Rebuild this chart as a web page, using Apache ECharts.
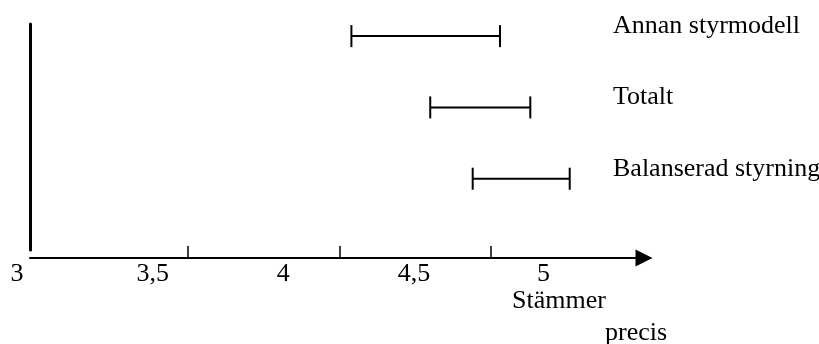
<!DOCTYPE html>
<html>
<head>
<meta charset="utf-8">
<script src="https://cdn.jsdelivr.net/npm/echarts@6/dist/echarts.min.js"></script>
<style>
  html, body { margin: 0; padding: 0; background: #fff; }
  #chart { width: 819px; height: 344px; }
</style>
</head>
<body>
<div id="chart"></div>
<script>
// rows, bottom to top
const categories = ["Balanserad styrning", "Totalt", "Annan styrmodell"];
const lowValues = [4.44, 4.30, 4.04];
const highValues = [4.76, 4.63, 4.53];

const tickValues = [3.5, 4, 4.5];
const labelValues = [3, 3.5, 4, 4.5, 5];
const axisTitle = ["Stämmer", "precis"];

const font = "Liberation Serif";
// labels in the original sit left of their ticks
const labelShift = [19, 35, 56, 77, 99];

const rich = {};
labelValues.forEach((v, i) => {
  rich["l" + i] = {
    fontFamily: font,
    fontSize: 26,
    color: "#000",
    padding: [0, labelShift[i] * 2, 0, 0]
  };
});

const data = categories.map((c, i) => [i + 1, lowValues[i], highValues[i]]);

const chart = echarts.init(document.getElementById("chart"));
chart.setOption({
  animation: false,
  backgroundColor: "#fff",
  title: {
    text: "{a|" + axisTitle[0] + "}\n{b|" + axisTitle[1] + "}",
    left: 512,
    top: 285,
    padding: 0,
    textStyle: {
      fontWeight: "normal",
      rich: {
        a: { fontFamily: font, fontSize: 26, lineHeight: 32, color: "#000" },
        b: { fontFamily: font, fontSize: 26, lineHeight: 32, color: "#000", padding: [0, 0, 0, 93] }
      }
    }
  },
  grid: {
    left: 30,
    right: 175,
    top: 24,
    bottom: 94,
    containLabel: false,
    outerBoundsMode: "none"
  },
  xAxis: {
    type: "value",
    min: 2.98,
    max: 5.005,
    offset: 8,
    splitLine: { show: false },
    axisLine: {
      show: true,
      onZero: false,
      symbol: ["none", "triangle"],
      symbolSize: [17, 17],
      lineStyle: { color: "#000", width: 2 }
    },
    axisTick: {
      show: true,
      inside: true,
      length: 12,
      customValues: tickValues,
      lineStyle: { color: "#000", width: 1.5 }
    },
    axisLabel: {
      margin: 3,
      customValues: labelValues,
      formatter: function(v) {
        const i = labelValues.indexOf(v);
        return "{l" + i + "|" + String(v).replace(".", ",") + "}";
      },
      rich: rich
    }
  },
  yAxis: [
    {
      type: "value",
      min: 0,
      max: 3.17,
      position: "left",
      splitLine: { show: false },
      axisLine: { show: true, onZero: false, lineStyle: { color: "#000", width: 3 } },
      axisTick: { show: false },
      axisLabel: { show: false }
    },
    {
      type: "value",
      min: 0,
      max: 3.17,
      position: "right",
      offset: -31,
      splitLine: { show: false },
      axisLine: { show: false },
      axisTick: { show: false },
      axisLabel: {
        margin: 0,
        customValues: categories.map((c, i) => i + 1),
        formatter: function(v) {
          return categories[v - 1];
        },
        fontFamily: font,
        fontSize: 26,
        color: "#000",
        align: "left",
        verticalAlign: "bottom",
        lineHeight: 20
      }
    }
  ],
  series: [
    {
      type: "custom",
      xAxisIndex: 0,
      yAxisIndex: 0,
      data: data,
      renderItem: function(params, api) {
        const row = api.value(0);
        const a = api.coord([api.value(1), row]);
        const b = api.coord([api.value(2), row]);
        const cap = 11;
        const style = { stroke: "#000", lineWidth: 2 };
        return {
          type: "group",
          children: [
            { type: "line", shape: { x1: a[0], y1: a[1], x2: b[0], y2: b[1] }, style: style },
            { type: "line", shape: { x1: a[0], y1: a[1] - cap, x2: a[0], y2: a[1] + cap }, style: style },
            { type: "line", shape: { x1: b[0], y1: b[1] - cap, x2: b[0], y2: b[1] + cap }, style: style }
          ]
        };
      }
    }
  ]
});
</script>
</body>
</html>
